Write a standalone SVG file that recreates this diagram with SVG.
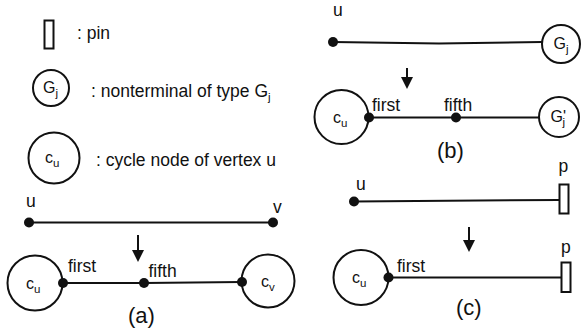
<svg xmlns="http://www.w3.org/2000/svg" width="581" height="333" viewBox="0 0 581 333">
  <style>
    .node { fill: #fff; stroke: #111; stroke-width: 2; }
    .edge { fill: none; stroke: #111; stroke-width: 2; }
    .dot { fill: #111; }
    .step { fill: none; stroke: #111; stroke-width: 2; }
    text { font-family: "Liberation Sans", Arial, sans-serif; fill: #111; }
    .lbl { font-size: 17.5px; }
    .in { font-size: 16px; }
    .sub { font-size: 11.5px; }
    .cap { font-size: 22px; }
  </style>
  <defs>
    <marker id="head" viewBox="0 0 12 12" refX="0" refY="6" markerWidth="12" markerHeight="12" markerUnits="userSpaceOnUse" orient="auto">
      <path d="M0,0 L12,6 L0,12 Z" fill="#111"/>
    </marker>
  </defs>

  <!-- legend -->
  <g id="legend-pin">
    <rect class="node" x="44.5" y="20.5" width="9" height="28"/>
    <text class="lbl" x="77" y="39">: pin</text>
  </g>
  <g id="legend-nonterminal">
    <circle class="node" cx="51" cy="88" r="18"/>
    <text class="in" x="43" y="93">G<tspan class="sub" dy="4">j</tspan></text>
    <text class="lbl" x="91" y="97">: nonterminal of type G<tspan class="sub" dy="4">j</tspan></text>
  </g>
  <g id="legend-cycle">
    <circle class="node" cx="54" cy="158" r="25.5"/>
    <text class="in" x="45" y="163">c<tspan class="sub" dy="4">u</tspan></text>
    <text class="lbl" x="96" y="166">: cycle node of vertex u</text>
  </g>

  <!-- connectors -->
  <g id="connectors">
    <!-- (a) -->
    <line class="edge" x1="29" y1="222.5" x2="273" y2="222.5"/>
    <line class="step" x1="138" y1="235" x2="138" y2="250" marker-end="url(#head)"/>
    <polyline class="edge" points="63,283 144,283 242,282"/>
    <!-- (b) -->
    <polyline class="edge" points="333,42 439,43.5 542,42"/>
    <line class="step" x1="407" y1="68" x2="407" y2="77" marker-end="url(#head)"/>
    <line class="edge" x1="369" y1="117.5" x2="539" y2="117.5"/>
    <!-- (c) -->
    <line class="edge" x1="354" y1="201.5" x2="559" y2="200"/>
    <line class="step" x1="469" y1="227" x2="469" y2="240" marker-end="url(#head)"/>
    <line class="edge" x1="388.5" y1="277.5" x2="561" y2="277.5"/>
  </g>

  <!-- (a) vertex edge u-v and its cycle-node expansion -->
  <g id="a-u">
    <circle class="dot" cx="29" cy="222.5" r="5"/>
    <text class="lbl" x="26" y="207">u</text>
  </g>
  <g id="a-v">
    <circle class="dot" cx="273" cy="222.5" r="5"/>
    <text class="lbl" x="273" y="213">v</text>
  </g>
  <g id="a-cu">
    <circle class="node" cx="35" cy="283" r="27.5"/>
    <text class="in" x="26" y="289">c<tspan class="sub" dy="4">u</tspan></text>
    <circle class="dot" cx="63" cy="283" r="5"/>
    <text class="lbl" x="68" y="272">first</text>
  </g>
  <g id="a-fifth">
    <circle class="dot" cx="144" cy="283" r="5"/>
    <text class="lbl" x="148.5" y="277">fifth</text>
  </g>
  <g id="a-cv">
    <circle class="node" cx="268" cy="281" r="26.5"/>
    <circle class="dot" cx="242" cy="282" r="5"/>
    <text class="in" x="261" y="287">c<tspan class="sub" dy="4">v</tspan></text>
  </g>
  <text class="cap" x="128" y="323">(a)</text>

  <!-- (b) edge to a nonterminal -->
  <g id="b-u">
    <circle class="dot" cx="333" cy="42" r="5"/>
    <text class="lbl" x="333" y="16">u</text>
  </g>
  <g id="b-gj">
    <circle class="node" cx="561" cy="44" r="19"/>
    <text class="in" x="553.5" y="49">G<tspan class="sub" dy="4">j</tspan></text>
  </g>
  <g id="b-cu">
    <circle class="node" cx="341.5" cy="117" r="27"/>
    <text class="in" x="333" y="123">c<tspan class="sub" dy="4">u</tspan></text>
    <circle class="dot" cx="369" cy="117.5" r="5"/>
    <text class="lbl" x="372" y="111">first</text>
  </g>
  <g id="b-fifth">
    <circle class="dot" cx="456" cy="117.5" r="5"/>
    <text class="lbl" x="444" y="111">fifth</text>
  </g>
  <g id="b-gj2">
    <circle class="node" cx="559" cy="117" r="20"/>
    <text class="in" x="550.5" y="122">G'<tspan class="sub" dx="-3.5" dy="4">j</tspan></text>
  </g>
  <text class="cap" x="437" y="158">(b)</text>

  <!-- (c) edge to a pin -->
  <g id="c-u">
    <circle class="dot" cx="354" cy="201.5" r="5"/>
    <text class="lbl" x="356" y="190">u</text>
  </g>
  <g id="c-pin">
    <rect class="node" x="559.5" y="184.5" width="9" height="29"/>
    <text class="lbl" x="558.5" y="172">p</text>
  </g>
  <g id="c-cu">
    <circle class="node" cx="361" cy="277.5" r="27.5"/>
    <text class="in" x="352" y="283">c<tspan class="sub" dy="4">u</tspan></text>
    <circle class="dot" cx="388.5" cy="277.5" r="5"/>
    <text class="lbl" x="397" y="272">first</text>
  </g>
  <g id="c-pin2">
    <rect class="node" x="561.5" y="262.5" width="9" height="29.5"/>
    <text class="lbl" x="561" y="253">p</text>
  </g>
  <text class="cap" x="456" y="315">(c)</text>
</svg>
